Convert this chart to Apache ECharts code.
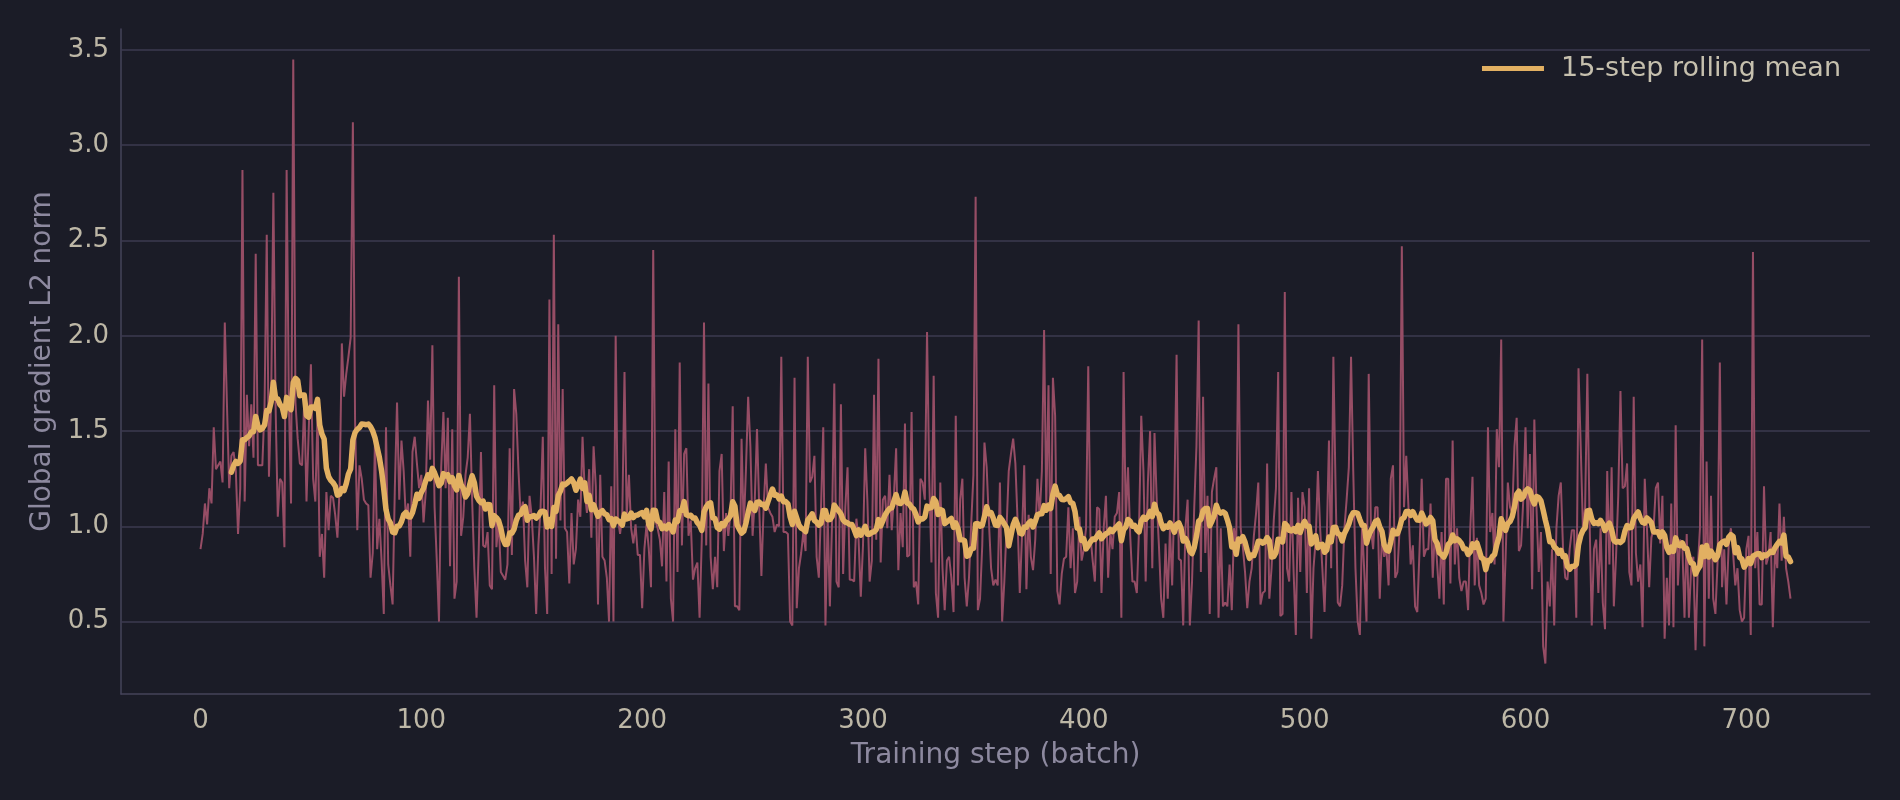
<!DOCTYPE html>
<html>
<head>
<meta charset="utf-8">
<script src="https://cdn.jsdelivr.net/npm/echarts@6/dist/echarts.min.js"></script>
<style>
  html, body { margin: 0; padding: 0; background: #1b1c27; }
  #chart { width: 1900px; height: 800px; }
</style>
</head>
<body>
<div id="chart"></div>
<script>
// global gradient L2 norm per training step (steps 0..720)
const gradNorm = [
  0.88,0.96,1.12,1.01,1.20,1.12,1.52,1.30,1.32,1.34,
  1.23,2.07,1.63,1.20,1.37,1.39,1.29,0.96,1.20,2.87,
  1.13,1.69,1.42,1.64,1.36,2.43,1.32,1.32,1.32,1.63,
  2.53,1.26,1.67,2.75,1.63,1.05,1.25,1.23,0.89,2.87,
  1.67,1.12,3.45,1.65,1.46,1.33,1.32,1.67,1.13,1.50,
  1.85,1.25,1.13,1.59,0.84,0.96,0.73,1.18,0.98,1.16,
  1.15,1.06,0.94,1.20,1.96,1.68,1.80,1.89,1.99,3.12,
  1.55,0.98,1.32,1.25,1.14,1.12,1.11,0.73,0.86,1.45,
  0.88,1.04,0.82,0.54,1.52,0.80,0.69,0.59,1.20,1.65,
  1.14,1.45,1.29,1.04,1.12,0.84,1.39,1.47,1.33,1.20,
  1.27,1.02,1.18,1.66,1.35,1.95,1.10,0.82,0.50,1.31,
  1.60,1.20,1.57,0.79,1.51,0.62,0.71,2.31,0.95,1.05,
  1.27,1.36,1.59,1.14,0.78,0.52,0.88,1.39,0.90,0.89,
  0.97,0.69,0.67,1.74,0.89,1.03,0.76,0.74,0.72,0.80,
  1.41,0.85,1.72,1.59,1.29,1.05,1.13,0.82,0.68,1.16,
  1.05,0.84,0.54,0.90,1.10,1.47,0.78,0.54,2.19,0.75,
  2.53,0.83,2.06,1.03,1.72,0.99,0.97,0.70,1.07,0.80,
  0.88,1.14,1.05,1.47,1.18,1.07,1.30,0.94,1.42,1.21,
  0.59,1.27,0.84,0.82,0.73,0.50,1.21,0.50,2.00,1.04,
  0.96,1.06,1.81,1.05,1.27,0.99,0.91,1.01,0.85,0.85,
  0.57,0.88,1.01,0.88,0.68,2.45,1.03,0.99,0.93,0.79,
  1.18,0.71,1.34,0.62,0.50,1.51,0.76,1.86,0.90,1.38,
  1.41,0.95,1.03,0.72,0.78,0.81,0.52,0.93,2.07,0.90,
  1.75,0.84,0.67,0.84,0.68,1.29,1.38,0.87,1.07,0.95,
  1.07,1.63,0.58,0.58,0.56,1.46,0.99,1.30,1.68,1.42,
  0.95,1.14,1.51,1.10,0.74,1.10,1.33,1.10,1.07,1.05,
  0.97,1.01,1.00,1.89,0.97,0.97,0.96,0.50,0.48,1.78,
  0.57,0.78,0.86,0.97,0.87,1.89,1.23,1.26,1.37,0.84,
  0.73,1.10,1.52,0.48,1.05,0.58,1.03,1.75,0.71,0.68,
  1.64,0.75,1.10,1.31,0.72,0.72,0.71,1.04,0.93,0.63,
  0.90,1.41,1.13,0.71,0.82,1.69,0.93,1.88,0.81,1.14,
  1.16,0.99,1.27,0.98,1.16,1.41,0.77,1.07,0.89,1.54,
  0.84,0.85,1.60,0.68,0.71,0.59,1.25,1.23,1.14,2.02,
  1.25,0.81,1.79,0.65,0.52,1.23,0.78,0.56,0.82,0.84,
  0.73,0.55,1.58,0.69,1.14,1.25,0.73,0.58,0.73,1.01,
  1.27,2.73,0.56,0.62,0.90,1.44,1.31,1.03,0.78,0.69,
  0.72,0.69,1.23,0.50,0.71,0.99,1.29,1.38,1.46,1.33,
  1.03,0.65,0.95,1.32,0.67,1.06,0.84,0.77,0.93,1.25,
  1.05,1.29,2.03,1.10,1.74,0.75,1.78,1.58,0.66,0.59,
  0.75,0.83,0.84,1.10,0.78,0.99,0.65,0.71,1.05,0.82,
  0.88,0.99,1.84,0.95,0.82,0.71,1.10,1.09,0.65,0.99,
  1.16,0.73,0.97,0.88,1.05,1.07,1.18,0.52,1.81,1.03,
  1.31,0.95,0.71,0.71,0.65,0.99,1.58,1.29,0.71,1.23,
  1.50,0.78,1.49,1.14,0.90,0.62,0.52,0.91,0.62,0.99,
  0.69,1.15,1.90,0.83,0.82,0.48,0.99,1.14,0.48,0.71,
  1.10,1.42,2.08,0.76,1.68,0.86,1.16,0.54,1.18,1.25,
  1.31,0.52,0.99,0.58,0.60,0.58,0.80,0.56,0.99,0.88,
  2.06,0.99,0.89,0.76,0.57,0.71,0.78,0.95,1.07,1.23,
  0.59,0.65,0.66,1.33,0.62,0.78,1.03,1.20,1.81,0.53,
  0.54,2.23,0.78,0.71,1.18,0.76,0.43,1.15,0.76,1.18,
  1.10,0.65,1.20,0.41,0.78,0.93,1.29,0.99,0.78,0.55,
  0.93,1.45,0.78,1.89,1.20,0.60,0.58,0.69,0.99,1.14,
  1.31,1.89,1.29,0.78,0.50,0.43,1.01,0.76,0.50,1.80,
  0.99,0.88,1.10,1.10,0.62,0.95,0.84,0.88,0.69,1.25,
  1.32,0.73,0.76,0.99,2.47,1.10,1.37,1.10,0.80,0.90,
  0.58,0.55,0.87,1.25,0.84,0.88,0.88,1.12,0.73,0.99,
  0.80,0.62,0.97,0.59,1.25,1.25,0.70,1.45,0.80,0.99,
  0.73,0.66,0.71,0.71,0.56,0.99,1.26,0.69,0.94,0.69,
  0.65,0.59,0.62,1.52,0.97,1.07,0.80,1.51,1.31,1.98,
  0.50,0.84,1.23,1.10,1.07,1.42,1.57,0.87,0.90,1.14,
  1.52,0.99,1.38,0.67,1.56,1.09,0.76,0.97,0.37,0.28,
  0.71,0.58,0.88,0.48,0.99,1.16,1.23,0.88,0.73,0.72,
  0.88,0.98,0.98,0.52,1.83,1.42,0.99,1.10,1.80,1.04,
  0.48,0.88,0.93,0.65,0.99,0.60,0.46,1.29,0.80,1.31,
  0.58,0.84,1.16,1.71,1.20,1.21,1.33,0.76,0.69,1.68,
  0.86,0.71,0.80,0.47,1.25,0.99,0.68,0.94,0.99,1.20,
  1.23,0.91,1.16,0.41,0.73,0.48,1.12,0.47,1.53,0.69,
  0.93,0.91,0.52,0.96,0.52,0.78,0.84,0.35,0.78,0.99,
  1.98,0.37,1.34,0.62,1.16,0.62,0.54,0.82,1.86,0.68,
  0.88,0.59,0.90,0.99,0.86,0.69,0.78,0.56,0.50,0.52,
  0.88,0.95,0.43,2.44,0.78,0.97,0.59,0.59,1.21,0.80,
  0.84,0.97,0.47,0.88,0.78,1.12,0.82,1.05,0.78,0.71,
  0.62
];
const rollWindow = 15;
const xTicks = [0, 100, 200, 300, 400, 500, 600, 700];
const yTicks = [0.5, 1.0, 1.5, 2.0, 2.5, 3.0, 3.5];
const rollName = '15-step rolling mean';

const font = 'DejaVu Sans';
const tickColor = '#bdb7a6';
const titleColor = '#8d899f';
const spineColor = '#45435a';
const gridColor = '#3c3a51';

// trailing rolling mean, first value once a full window is available
const rawPoints = gradNorm.map((v, i) => [i, v]);
const rollPoints = [];
for (let i = rollWindow - 1; i < gradNorm.length; i++) {
  let sum = 0;
  for (let j = i - rollWindow + 1; j <= i; j++) sum += gradNorm[j];
  rollPoints.push([i, sum / rollWindow]);
}

const chart = echarts.init(document.getElementById('chart'));
chart.setOption({
  backgroundColor: '#1b1c27',
  animation: false,
  textStyle: { fontFamily: font },
  grid: { left: 121, right: 30, top: 29, bottom: 106 },
  legend: {
    data: [{ name: rollName, icon: 'rect' }],
    right: 54,
    top: 50,
    itemWidth: 62,
    itemHeight: 5,
    textStyle: { color: '#c6c0ae', fontSize: 27, fontFamily: font, padding: [0, 0, 0, 12] }
  },
  xAxis: {
    type: 'value',
    min: -36,
    max: 756,
    name: 'Training step (batch)',
    nameLocation: 'middle',
    nameGap: 48,
    nameTextStyle: { color: titleColor, fontSize: 28, fontFamily: font },
    axisLine: { show: true, onZero: false, lineStyle: { color: spineColor, width: 1.5 } },
    axisTick: { show: false },
    splitLine: { show: false },
    axisLabel: {
      customValues: xTicks,
      color: tickColor,
      fontSize: 26,
      fontFamily: font,
      margin: 14
    }
  },
  yAxis: {
    type: 'value',
    min: 0.12,
    max: 3.61,
    name: 'Global gradient L2 norm',
    nameLocation: 'middle',
    nameGap: 63,
    nameRotate: 90,
    nameTextStyle: { color: titleColor, fontSize: 28, fontFamily: font },
    axisLine: { show: true, onZero: false, lineStyle: { color: spineColor, width: 1.5 } },
    axisTick: { show: false },
    splitLine: { show: false },
    axisLabel: {
      customValues: yTicks,
      formatter: v => v.toFixed(1),
      color: tickColor,
      fontSize: 26,
      fontFamily: font,
      margin: 12
    }
  },
  series: [
    {
      type: 'line',
      name: 'raw',
      data: rawPoints,
      showSymbol: false,
      z: 2,
      lineStyle: { color: '#964d65', width: 2 },
      itemStyle: { color: '#964d65' },
      markLine: {
        silent: true,
        z: 1,
        symbol: ['none', 'none'],
        label: { show: false },
        lineStyle: { color: gridColor, width: 1.5, type: 'solid' },
        data: yTicks.map(v => ({ yAxis: v }))
      }
    },
    {
      type: 'line',
      name: rollName,
      data: rollPoints,
      showSymbol: false,
      z: 3,
      lineStyle: { color: '#e2b062', width: 5.5, cap: 'round', join: 'round' },
      itemStyle: { color: '#e2b062' }
    }
  ]
});
</script>
</body>
</html>
